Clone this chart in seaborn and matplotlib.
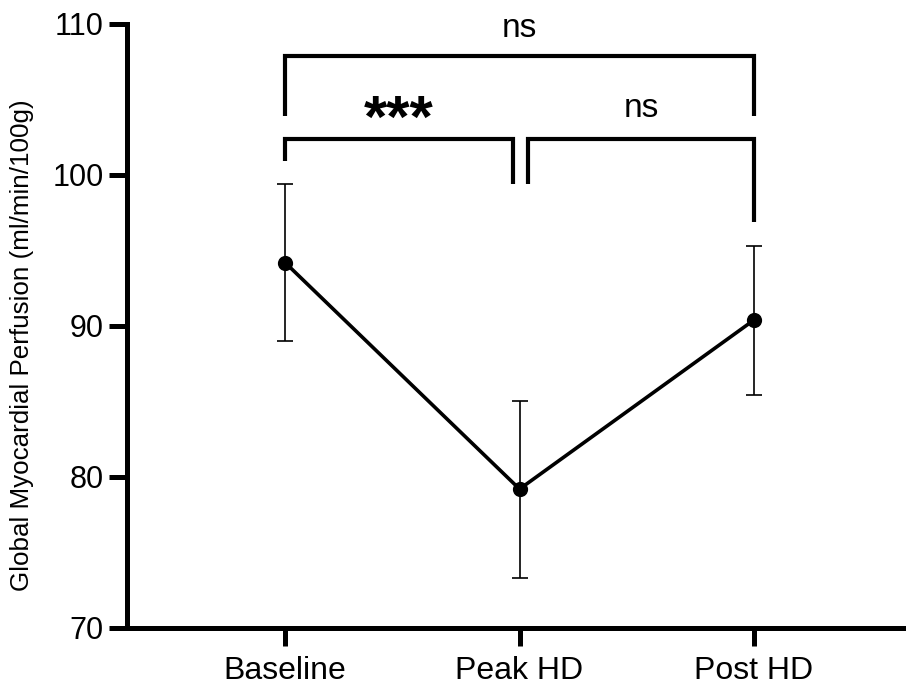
import numpy as np
import pandas as pd
import matplotlib
matplotlib.use("Agg")
import matplotlib.pyplot as plt
import seaborn as sns

categories = ["Baseline", "Peak HD", "Post HD"]
means = [94.2, 79.2, 90.4]
lower = [89.0, 73.3, 85.4]
upper = [99.4, 85.0, 95.3]
yticks = [70, 80, 90, 100, 110]
ylabel = "Global Myocardial Perfusion (ml/min/100g)"

sns.set_theme(style="ticks")
plt.rcParams["font.family"] = ["Liberation Sans", "DejaVu Sans"]
plt.rcParams["text.color"] = "black"
plt.rcParams["axes.labelcolor"] = "black"

df = pd.DataFrame({"cond": categories, "mean": means})
m = np.array(means)
yerr = np.vstack([m - np.array(lower), np.array(upper) - m])

fig = plt.figure(figsize=(9.06, 6.87), dpi=100)
ax = fig.add_axes([0.1402, 0.0859, 0.8598, 0.8792])

ax.errorbar(np.arange(len(categories)), m, yerr=yerr, fmt="none",
            ecolor="black", elinewidth=1.2, capsize=5.8, capthick=1.2, zorder=2)
sns.pointplot(data=df, x="cond", y="mean", color="black", errorbar=None,
              markers="o", markersize=9, linewidth=2.6, ax=ax, zorder=3)

ax.set_xlim(-0.674, 2.648)
ax.set_ylim(70, 110)
ax.set_yticks(yticks)
ax.set_xlabel("")
ax.set_ylabel(ylabel, fontsize=18.7, color="black")
ax.yaxis.set_label_coords(-0.119, 0.4685)
for s in ["top", "right"]:
    ax.spines[s].set_visible(False)
for s in ["left", "bottom"]:
    ax.spines[s].set_linewidth(3.6)
    ax.spines[s].set_color("black")
ax.tick_params(axis="both", length=13, width=3.6, colors="black", pad=4)
ax.tick_params(axis="y", labelsize=22)
ax.tick_params(axis="x", labelsize=23, pad=7)

bk = dict(color="black", lw=3.0, clip_on=False, solid_capstyle="butt",
          solid_joinstyle="miter")
# top bracket Baseline vs Post HD
ax.plot([0, 0, 2, 2], [103.9, 107.9, 107.9, 103.9], **bk)
ax.text(1, 109.14, "ns", ha="center", va="baseline", fontsize=24)
# Baseline vs Peak HD
ax.plot([0, 0, 0.97, 0.97], [100.9, 102.4, 102.4, 99.4], **bk)
ax.text(0.485, 102.55, "***", ha="center", va="baseline", fontsize=43,
        fontweight="bold")
# Peak HD vs Post HD
ax.plot([1.035, 1.035, 2, 2], [99.4, 102.4, 102.4, 96.9], **bk)
ax.text(1.5175, 103.84, "ns", ha="center", va="baseline", fontsize=24)

fig.savefig("out.png", dpi=100)
